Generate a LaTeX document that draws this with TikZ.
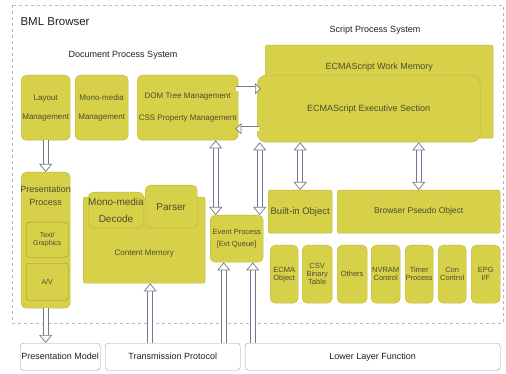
\documentclass[tikz,border=0pt]{standalone}
\usepackage{fontspec}
\setmainfont{Liberation Sans}
\usetikzlibrary{arrows.meta}

\definecolor{bmlfill}{RGB}{214,209,72}
\definecolor{bmledge}{RGB}{188,183,70}
\definecolor{bmltext}{RGB}{78,76,48}
\definecolor{bmlarrow}{RGB}{115,120,140}
\newcommand{\bmlfs}[2]{\fontsize{#1}{#2}\selectfont}

\tikzset{
  blk/.style={draw=bmledge, fill=bmlfill, rounded corners=5pt, text=bmltext, align=center, inner sep=0pt, anchor=north west, font=\bmlfs{8}{9}},
  inblk/.style={blk, draw=bmledge!80!black, rounded corners=3pt},
  lowbox/.style={draw=gray!75, fill=white, rounded corners=3pt, text=gray!25!black, inner sep=0pt, anchor=north west, font=\bmlfs{9}{10}},
  head/.style={text=gray!25!black, font=\bmlfs{9}{10}},
  hollow/.style={draw=bmlarrow, line width=0.7pt, double=white, double distance=4.2pt, -{Triangle[length=8pt, width=13pt, line width=0.7pt, fill=white]}},
  hollow2/.style={hollow, {Triangle[length=8pt, width=13pt, line width=0.7pt, fill=white]}-{Triangle[length=8pt, width=13pt, line width=0.7pt, fill=white]}},
  hollowh/.style={hollow, -{Triangle[length=6pt, width=11pt, line width=0.7pt, fill=white]}}
}

\begin{document}
\begin{tikzpicture}[x=1pt, y=-1pt]
\useasboundingbox (0,0) rectangle (506,374);
\fill[white] (0,0) rectangle (506,374);
\draw[gray!55, dashed, line width=0.7pt] (12,5) rectangle (503,323);

\node[head, anchor=west, font=\bmlfs{11.5}{12}] (bml) at (17,22) {BML Browser};
\node[head] (docsys) at (123,55) {Document Process System};
\node[head] (scrsys) at (375,30) {Script Process System};

\node[blk, minimum width=49pt, minimum height=65pt, font=\bmlfs{8}{19}] (layout) at (21,75) {Layout\\Management};
\node[blk, minimum width=53pt, minimum height=65pt, font=\bmlfs{8}{19}] (monomgmt) at (75,75) {Mono-media\\Management};
\node[blk, minimum width=101pt, minimum height=65pt, font=\bmlfs{8}{22}] (dom) at (137,75) {DOM Tree Management\\CSS Property Management};

\node[blk, rounded corners=2pt, minimum width=228pt, minimum height=93pt,
  label={[anchor=center, yshift=-22pt, text=bmltext, font=\bmlfs{9}{10}]north:ECMAScript Work Memory}] (workmem) at (265,45) {};
\node[blk, rounded corners=9pt, minimum width=223pt, minimum height=67pt, font=\bmlfs{9}{10}] (exec) at (257,75) {ECMAScript Executive Section};

\node[blk, minimum width=49pt, minimum height=136pt,
  label={[anchor=north, yshift=-10pt, align=center, text=bmltext, font=\bmlfs{9}{13}]north:Presentation\\Process}] (presproc) at (21,172) {};
\node[inblk, minimum width=42pt, minimum height=35pt, font=\bmlfs{7}{8.5}] (textgfx) at (26,222) {Text/\\Graphics};
\node[inblk, minimum width=42pt, minimum height=37pt, font=\bmlfs{7}{8.5}] (av) at (26,263) {A/V};

\node[blk, rounded corners=2pt, minimum width=122pt, minimum height=86pt,
  label={[anchor=center, yshift=30pt, text=bmltext, font=\bmlfs{8}{9}]south:Content Memory}] (content) at (83,197) {};
\node[blk, minimum width=55pt, minimum height=36pt, font=\bmlfs{10}{17}] (decode) at (88,192) {Mono-media\\Decode};
\node[blk, minimum width=52pt, minimum height=43pt, font=\bmlfs{10}{11}] (parser) at (145,185) {Parser};

\node[blk, minimum width=53pt, minimum height=47pt, font=\bmlfs{7.5}{12}] (event) at (210,215) {Event Process\\{[}Evt Queue{]}};

\node[blk, rounded corners=2pt, minimum width=64pt, minimum height=43pt, font=\bmlfs{9.5}{10}] (builtin) at (268,190) {Built-in Object};
\node[blk, rounded corners=2pt, minimum width=163pt, minimum height=43pt, font=\bmlfs{8.5}{10}] (pseudo) at (337,190) {Browser Pseudo Object};

\node[blk, minimum width=28pt, minimum height=58pt, font=\bmlfs{7.5}{8}] (ecmaobj) at (270,245) {ECMA\\Object};
\node[blk, minimum width=30pt, minimum height=58pt, font=\bmlfs{7.5}{8}] (csv) at (302,245) {CSV\\Binary\\Table};
\node[blk, minimum width=30pt, minimum height=58pt, font=\bmlfs{7.5}{8}] (others) at (337,245) {Others};
\node[blk, minimum width=29pt, minimum height=58pt, font=\bmlfs{7.5}{8}] (nvram) at (371,245) {NVRAM\\Control};
\node[blk, minimum width=28pt, minimum height=58pt, font=\bmlfs{7.5}{8}] (timer) at (405,245) {Timer\\Process};
\node[blk, minimum width=28pt, minimum height=58pt, font=\bmlfs{7.5}{8}] (con) at (438,245) {Con\\Control};
\node[blk, minimum width=29pt, minimum height=58pt, font=\bmlfs{7.5}{8}] (epg) at (471,245) {EPG\\I/F};

\node[lowbox, minimum width=80pt, minimum height=27pt] (presmodel) at (20,343) {Presentation Model};
\node[lowbox, minimum width=135pt, minimum height=27pt] (transp) at (105,343) {Transmission Protocol};
\node[lowbox, minimum width=255pt, minimum height=27pt] (lower) at (245,343) {Lower Layer Function};

\draw[hollowh] ([yshift=19pt, xshift=-2pt]dom.east) -- ([yshift=19pt, xshift=4pt]dom.east -| exec.west);
\draw[hollowh] ([yshift=-21pt, xshift=2pt]dom.east -| exec.west) -- ([yshift=-21pt, xshift=-3pt]dom.east);
\draw[hollow] (layout.south) -- (presproc.north);
\draw[hollow] (presproc.south) -- (presproc.south |- presmodel.north);
\draw[hollow] ([xshift=6pt]content.south |- transp.north) -- ([xshift=6pt]content.south);
\draw[hollow2] ([xshift=-21pt]event.north |- dom.south) -- ([xshift=-21pt]event.north);
\draw[hollow2] ([xshift=23pt]event.north |- exec.south) -- ([xshift=23pt]event.north);
\draw[hollow] ([xshift=-13pt]event.south |- transp.north) -- ([xshift=-13pt]event.south);
\draw[hollow] ([xshift=16pt]event.south |- lower.north) -- ([xshift=16pt]event.south);
\draw[hollow2] (builtin.north |- exec.south) -- (builtin.north);
\draw[hollow2] (pseudo.north |- exec.south) -- (pseudo.north);
\end{tikzpicture}
\end{document}
